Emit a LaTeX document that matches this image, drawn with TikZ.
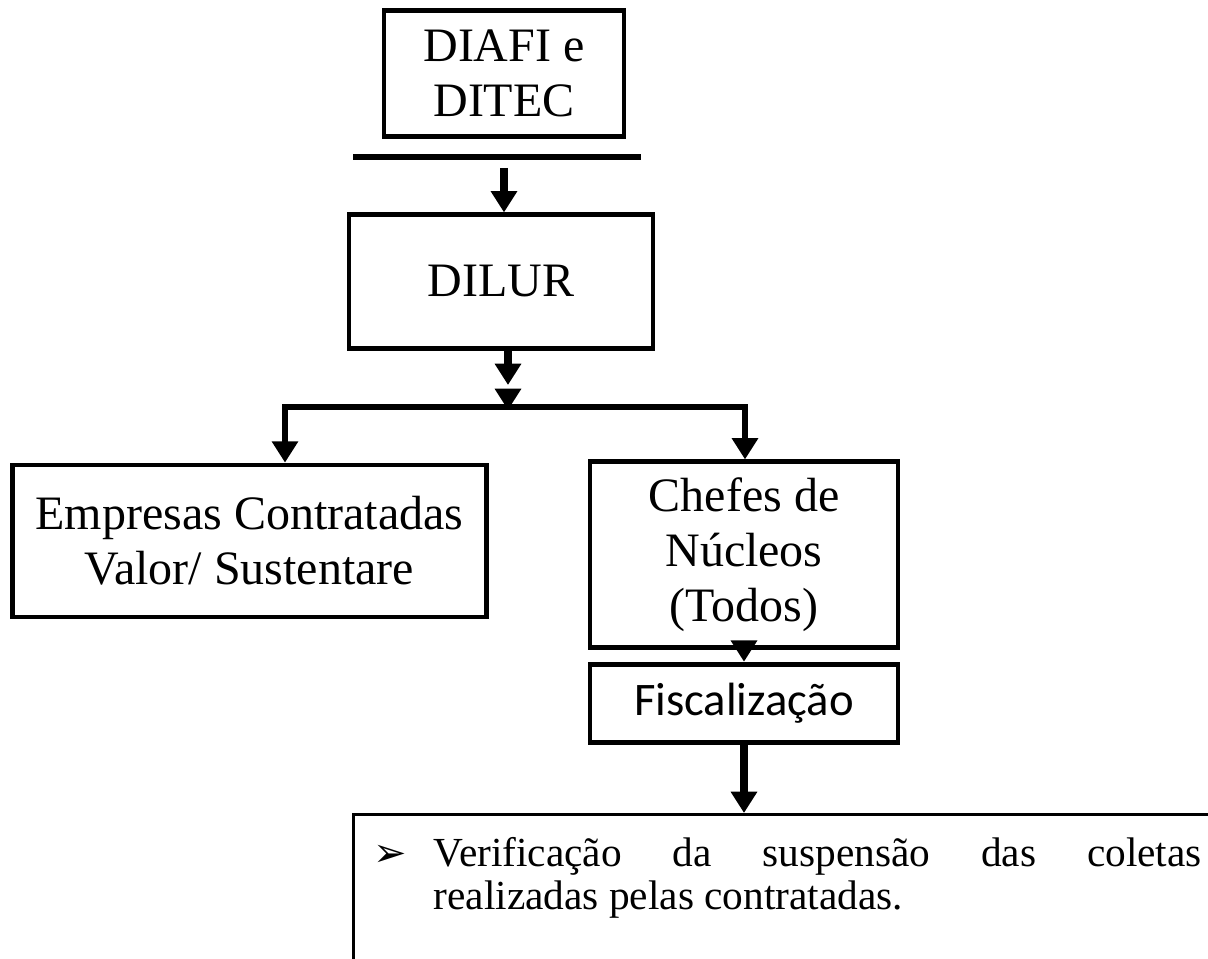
\documentclass[tikz,border=0pt]{standalone}
\usepackage{fontspec}
\setmainfont{Liberation Serif}
\newfontfamily\calibrifont{Carlito}
\newfontfamily\dingfont{DejaVu Sans}
\usetikzlibrary{arrows.meta}

\tikzset{
	box/.style={draw, line width=3.6pt, align=center, inner sep=0pt,
		font=\fontsize{36}{41.4}\selectfont},
	link/.style={line width=6pt, -{Triangle[length=16pt, width=19pt]}},
	branch/.style={line width=5pt, line join=miter,
		{Triangle[length=16pt, width=19pt]}-{Triangle[length=16pt, width=19pt]}},
}

\begin{document}
\begin{tikzpicture}[x=0.75pt, y=-0.75pt]
	\clip (0,0) rectangle (1208,959);
	
	\node [box, minimum width=180pt, minimum height=95pt] (diafi) at (504,73.5) {DIAFI e\\DITEC};
	\node [box, minimum width=228pt, minimum height=100pt] (dilur) at (501,281.5) {DILUR};
	\node [box, minimum width=355pt, minimum height=114pt] (empresas) at (249.5,541) {Empresas Contratadas\\Valor/ Sustentare};
	\node [box, minimum width=231pt, minimum height=139pt] (chefes) at (744,554.5) {Chefes de\\N\'ucleos\\(Todos)};
	\node [box, minimum width=231pt, minimum height=59pt, font=\calibrifont\fontsize{35}{40}\selectfont] (fisc) at (744,703.5) {Fiscaliza\c{c}\~ao};
	\node [draw, line width=2.6pt, anchor=north west, inner xsep=60pt, inner ysep=17pt,
		text width=576pt, align=justify, text depth=100pt,
		font=\fontsize{31}{32}\selectfont] (acoes) at (352,813)
		{\llap{{\dingfont\fontsize{30}{30}\selectfont ➢}\hspace{20pt}}Verifica\c{c}\~ao da suspens\~ao das coletas\linebreak realizadas pelas contratadas.};
	
	% barra e setas
	\coordinate (barL) at (353,157);
	\coordinate (barR) at (641,157);
	\coordinate (drop) at (504,168);
	\coordinate (mid) at (508,385);
	\coordinate (tipA) at (508,391);
	\coordinate (tipB) at (508,410);
	\coordinate (brL) at (285,407);
	\coordinate (brR) at (745,407);
	
	\draw [line width=5pt] (barL) -- (barR);
	\draw [link] (drop) -- (drop |- dilur.north);
	\draw [link] (mid |- dilur.south) -- (mid);
	\draw [link] (tipA) -- (tipB);
	\draw [branch] (brL |- empresas.north) -- (brL) -- (brR) -- (brR |- chefes.north);
	\draw [link] (chefes.south) -- (fisc.north);
	\draw [link] (fisc.south) -- (fisc.south |- acoes.north);
	
\end{tikzpicture}
\end{document}
